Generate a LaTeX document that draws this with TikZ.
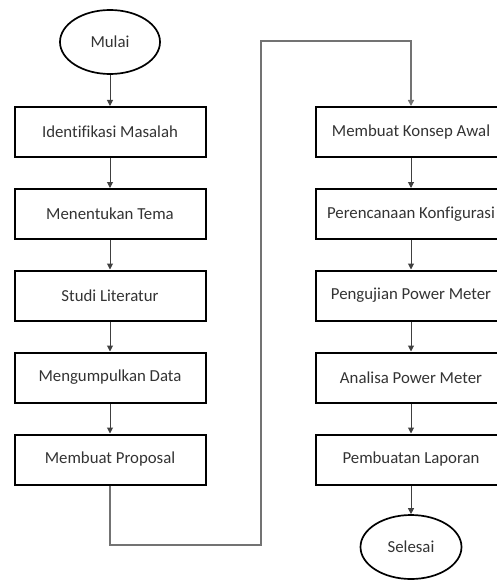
\documentclass[tikz,border=0pt]{standalone}
\usepackage{fontspec}
\setmainfont{Carlito}[Ligatures=NoCommon]
\usetikzlibrary{shapes.geometric,arrows.meta}
\begin{document}
\begin{tikzpicture}[x=1pt,y=-1pt,
  stepbox/.style={draw=black, line width=2pt, minimum width=191pt, minimum height=50pt, inner sep=0pt, text=black!80, font=\fontsize{16.8}{20}\selectfont},
  term/.style={draw=black, line width=1.7pt, ellipse, minimum width=100pt, minimum height=64pt, inner sep=0pt, text=black!80, font=\fontsize{16.8}{20}\selectfont},
  conn/.style={draw=black!75, line width=1pt, -{Triangle[length=6pt,width=6pt]}},
  longconn/.style={draw=black!55, line width=1.4pt, -{Triangle[length=6pt,width=6pt]}}]
\useasboundingbox (0,0) rectangle (497,580);
\clip (0,0) rectangle (497,580);
\node[term] (mulai) at (110,42) {Mulai};
\node[stepbox] (b1) at (110,132) {Identifikasi Masalah};
\node[stepbox] (b2) at (110,214) {Menentukan Tema};
\node[stepbox] (b3) at (110,295.5) {Studi Literatur};
\node[stepbox] (b4) at (110,377.5) {Mengumpulkan Data};
\node[stepbox] (b5) at (110,459.5) {Membuat Proposal};
\node[stepbox] (r1) at (411,132) {Membuat Konsep Awal};
\node[stepbox] (r2) at (411,214) {Perencanaan Konfigurasi};
\node[stepbox] (r3) at (411,295.5) {Pengujian Power Meter};
\node[stepbox] (r4) at (411,377.5) {Analisa Power Meter};
\node[stepbox] (r5) at (411,459.5) {Pembuatan Laporan};
\node[term, minimum width=101pt] (selesai) at (411,547) {Selesai};
\coordinate (c1) at (261,545);
\coordinate (c2) at (261,41);
\draw[conn] (mulai) -- (b1);
\draw[conn] (b1) -- (b2);
\draw[conn] (b2) -- (b3);
\draw[conn] (b3) -- (b4);
\draw[conn] (b4) -- (b5);
\draw[longconn] (b5.south) |- (c1) -- (c2) -| (r1.north);
\draw[conn] (r1) -- (r2);
\draw[conn] (r2) -- (r3);
\draw[conn] (r3) -- (r4);
\draw[conn] (r4) -- (r5);
\draw[conn] (r5) -- (selesai);
\end{tikzpicture}
\end{document}
